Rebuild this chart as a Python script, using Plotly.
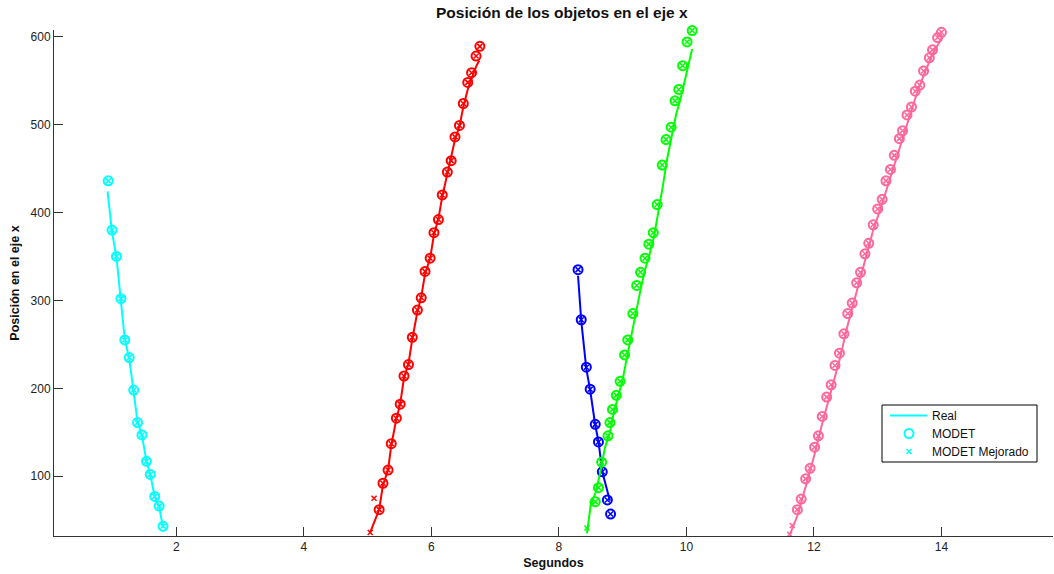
import plotly.graph_objects as go

# ---- datos: tiempo (s) y posición x (px) ----
t_cyan = [0.93, 0.99, 1.06, 1.13, 1.19, 1.26, 1.33, 1.39, 1.46, 1.53, 1.59, 1.66, 1.73, 1.79]
modet_cyan = [436, 380, 350, 302, 255, 235, 198, 161, 147, 117, 102, 77, 66, 43]
real_t_cyan = [0.92, 0.99, 1.06, 1.13, 1.19, 1.26, 1.33, 1.39, 1.46, 1.53, 1.59, 1.66, 1.73, 1.79]
real_cyan = [424, 378, 349, 303, 256, 234, 198, 162, 146, 117, 102, 77, 65, 42]
mej_t_cyan = []
mej_cyan = []

t_red = [5.18, 5.24, 5.32, 5.37, 5.45, 5.51, 5.57, 5.64, 5.70, 5.78, 5.84, 5.90, 5.98,
         6.04, 6.11, 6.17, 6.25, 6.31, 6.37, 6.44, 6.50, 6.57, 6.63, 6.70, 6.76]
modet_red = [62, 92, 107, 137, 166, 182, 214, 227, 258, 289, 303, 333, 348,
             377, 392, 420, 446, 459, 486, 499, 524, 548, 559, 578, 589]
real_t_red = [5.04, 5.18, 5.24, 5.32, 5.37, 5.45, 5.51, 5.57, 5.64, 5.70, 5.78, 5.84, 5.90,
              5.98, 6.04, 6.11, 6.17, 6.25, 6.31, 6.37, 6.44, 6.50, 6.57, 6.63, 6.70, 6.75]
real_red = [36, 62, 90, 107, 135, 165, 182, 212, 228, 256, 287, 304, 330, 348,
            375, 393, 418, 444, 460, 483, 498, 520, 540, 553, 566, 573]
mej_t_red = [5.04, 5.10]
mej_red = [36, 75]

t_blue = [8.30, 8.35, 8.43, 8.49, 8.57, 8.62, 8.68, 8.76, 8.81]
modet_blue = [335, 278, 224, 199, 159, 139, 105, 73, 57]
real_t_blue = [8.30, 8.35, 8.43, 8.49, 8.57, 8.62, 8.68, 8.80]
real_blue = [328, 277, 222, 198, 158, 140, 105, 72]
mej_t_blue = []
mej_blue = []

t_green = [8.57, 8.62, 8.67, 8.77, 8.80, 8.84, 8.90, 8.96, 9.03, 9.08, 9.16, 9.22, 9.28,
           9.35, 9.41, 9.48, 9.54, 9.62, 9.68, 9.76, 9.82, 9.88, 9.94, 10.01, 10.09]
modet_green = [71, 87, 116, 146, 161, 176, 192, 208, 238, 255, 285, 317, 332,
               348, 364, 377, 409, 454, 483, 497, 527, 540, 567, 594, 607]
real_t_green = [8.44, 8.50, 8.58, 8.65, 8.72, 8.80, 8.86, 8.93, 9.00, 9.07, 9.14, 9.21, 9.28,
                9.35, 9.42, 9.49, 9.56, 9.63, 9.70, 9.77, 9.84, 9.91, 9.98, 10.05, 10.09]
real_green = [35, 68, 82, 105, 132, 150, 172, 190, 210, 236, 262, 290, 312,
              335, 352, 372, 400, 430, 462, 488, 512, 530, 552, 572, 586]
mej_t_green = [8.44, 8.52]
mej_green = [41, 68]

t_pink = [11.74, 11.80, 11.87, 11.94, 12.01, 12.07, 12.13, 12.20, 12.27, 12.33, 12.40, 12.47,
          12.53, 12.60, 12.67, 12.73, 12.80, 12.86, 12.93, 13.00, 13.07, 13.13, 13.20,
          13.26, 13.34, 13.39, 13.46, 13.53, 13.59, 13.66, 13.72, 13.81, 13.86, 13.94, 14.00]
modet_pink = [62, 74, 97, 109, 133, 146, 168, 190, 204, 226, 240, 262, 285, 297, 320, 332,
              353, 365, 386, 404, 415, 436, 449, 465, 484, 493, 511, 520, 538, 545, 561,
              576, 585, 599, 605]
real_t_pink = [11.62, 11.74, 11.87, 12.01, 12.13, 12.27, 12.40, 12.53, 12.67, 12.80,
               12.93, 13.07, 13.20, 13.34, 13.46, 13.59, 13.72, 13.86, 14.00]
real_pink = [33, 55, 88, 125, 160, 198, 232, 272, 310, 346, 380, 410, 440, 472, 502, 530,
             556, 580, 598]
mej_t_pink = [11.62, 11.66]
mej_pink = [34, 44]

legend_labels = ["Real", "MODET", "MODET Mejorado"]

series = [
    ("#00FFFF", real_t_cyan, real_cyan, t_cyan, modet_cyan, mej_t_cyan, mej_cyan),
    ("#FF0000", real_t_red, real_red, t_red, modet_red, mej_t_red, mej_red),
    ("#0000FF", real_t_blue, real_blue, t_blue, modet_blue, mej_t_blue, mej_blue),
    ("#00FF00", real_t_green, real_green, t_green, modet_green, mej_t_green, mej_green),
    ("#FF6699", real_t_pink, real_pink, t_pink, modet_pink, mej_t_pink, mej_pink),
]

FONT = "Liberation Sans, Arial, Helvetica, sans-serif"
W, H = 1054, 574
L, R, T, B = 54, 1, 30, 38
PW, PH = W - L - R, H - T - B


def px(x):
    return (x - L) / PW


def py(y):
    return 1 - (y - T) / PH


CIRCLE = dict(symbol="circle-open", size=9)
CROSS = dict(symbol="x-thin-open", size=5)

fig = go.Figure()
for col, rt, rv, mt, mv, et, ev in series:
    fig.add_trace(go.Scatter(x=rt, y=rv, mode="lines", name=legend_labels[0],
                             line=dict(color=col, width=2), showlegend=False))
    fig.add_trace(go.Scatter(x=mt, y=mv, mode="markers", name=legend_labels[1],
                             marker=dict(**CIRCLE, color=col, line=dict(width=2, color=col)),
                             cliponaxis=False, showlegend=False))
    fig.add_trace(go.Scatter(x=et + mt, y=ev + mv, mode="markers", name=legend_labels[2],
                             marker=dict(**CROSS, color=col, line=dict(width=1.5, color=col)),
                             cliponaxis=False, showlegend=False))

# ---- leyenda dibujada a mano (caja, muestras y textos) ----
key_col = series[0][0]
box = dict(x0=882, x1=1037, y0=405, y1=462)
rows_y = [415.5, 433.5, 451.5]
fig.add_shape(type="rect", xref="paper", yref="paper",
              x0=px(box["x0"]), x1=px(box["x1"]), y0=py(box["y1"]), y1=py(box["y0"]),
              line=dict(color="black", width=1), fillcolor="rgba(0,0,0,0)", layer="above")
fig.add_shape(type="line", xref="paper", yref="paper",
              x0=px(890), x1=px(927), y0=py(rows_y[0]), y1=py(rows_y[0]),
              line=dict(color=key_col, width=2), layer="above")
# muestras de marcador en un eje auxiliar en píxeles
fig.add_trace(go.Scatter(x=[909], y=[rows_y[1]], mode="markers", xaxis="x2", yaxis="y2",
                         marker=dict(**CIRCLE, color=key_col, line=dict(width=2, color=key_col)),
                         showlegend=False, hoverinfo="skip"))
fig.add_trace(go.Scatter(x=[909], y=[rows_y[2]], mode="markers", xaxis="x2", yaxis="y2",
                         marker=dict(**CROSS, color=key_col, line=dict(width=1.5, color=key_col)),
                         showlegend=False, hoverinfo="skip"))
for lab, yy in zip(legend_labels, rows_y):
    fig.add_annotation(text=lab, xref="paper", yref="paper", x=px(930), y=py(yy),
                       xanchor="left", yanchor="middle", showarrow=False,
                       font=dict(size=12, color="#111"))

fig.update_layout(
    width=W, height=H,
    margin=dict(l=L, r=R, t=T, b=B),
    paper_bgcolor="white", plot_bgcolor="white",
    font=dict(family=FONT, size=12, color="#222"),
    title=dict(text="<b>Posición de los objetos en el eje x</b>", x=0.533, xanchor="center",
               y=1 - 13 / H, yanchor="middle", yref="container",
               font=dict(size=15.5, color="#111")),
    showlegend=False,
    xaxis2=dict(overlaying="x", range=[L, L + PW], visible=False, fixedrange=True),
    yaxis2=dict(overlaying="y", range=[T + PH, T], visible=False, fixedrange=True),
)
fig.update_layout(
    xaxis=dict(range=[0.08, 15.75], tickvals=[2, 4, 6, 8, 10, 12, 14],
               ticks="inside", ticklen=9, tickcolor="#333", showline=True,
               linecolor="#333", linewidth=1, showgrid=False, zeroline=False,
               title=dict(text="<b>Segundos</b>", font=dict(size=12.5, color="#111"), standoff=4)),
    yaxis=dict(range=[32, 607.6], tickvals=[100, 200, 300, 400, 500, 600],
               ticks="inside", ticklen=9, tickcolor="#333", showline=True,
               linecolor="#333", linewidth=1, showgrid=False, zeroline=False,
               title=dict(text="<b>Posición en el eje x</b>", font=dict(size=12.5, color="#111"),
                          standoff=8)),
)

fig.write_html("out.html")
